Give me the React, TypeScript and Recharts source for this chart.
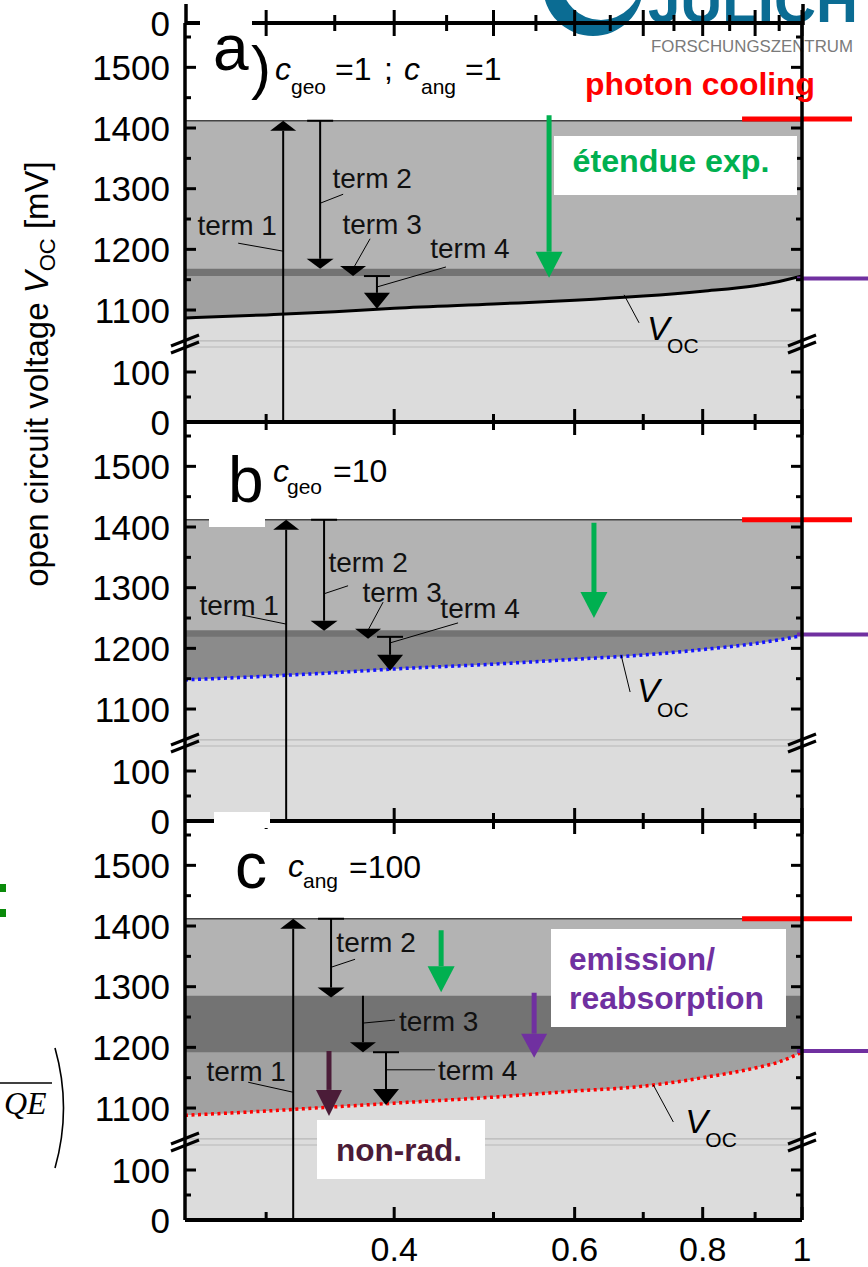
import React from 'react';
import { ComposedChart, Area, Line, XAxis, YAxis, ReferenceLine, ReferenceDot } from 'recharts';

// ---------------- data ----------------
const xValues = [0.25, 0.3, 0.35, 0.4, 0.5, 0.6, 0.7, 0.8, 0.9, 0.95, 1.0];
const vocA = [1087, 1092, 1097, 1103, 1110, 1116, 1123, 1131, 1140, 1147, 1156];
const vocB = [1148, 1154, 1160, 1166, 1174, 1182, 1189, 1198, 1208, 1214, 1221];
const vocC = [1088, 1095, 1102, 1108, 1118, 1128, 1136, 1150, 1166, 1176, 1192];

const limitLevels = [1412, 1412, 1412];
const bandTopLevels = [1168, 1230, 1285];
const bandBottomLevels = [1156, 1219, 1192];
const sideLimitLevels = [1415, 1412, 1412];
const sideVocLevels = [1152, 1223, 1194];
const sideLimitX = [0.874, 1.119];
const sideVocX = [0.989, 1.16];

const yLabelTicks = [0, 100, 1100, 1200, 1300, 1400, 1500];
const yMinorTicks = [50, 1150, 1250, 1350, 1450, 1550];
const yBreakLines = [150, 1049];
const xMajorTicks = [0.4, 0.6, 0.8, 1];
const xMinorTicks = [0.3, 0.5, 0.7, 0.9];
const xFineTicks = [0.3, 0.35, 0.4, 0.45, 0.5, 0.55, 0.6, 0.65, 0.7, 0.75, 0.8, 0.85, 0.9, 0.95, 1];
const xTickLabels = ['0.4', '0.6', '0.8', '1'];

const arrowsA = [
  { x: 0.3117, from: 0, to: 1412, kind: 'term' },
  { x: 0.3387, from: 1412, to: 1168, kind: 'termCap' },
  { x: 0.3647, from: 1168, to: 1156, kind: 'term' },
  { x: 0.3848, from: 1156, to: 1102, kind: 'term4' },
  { x: 0.5665, from: 1421, to: 1153, kind: 'green' },
];
const arrowsB = [
  { x: 0.3138, from: 0, to: 1412, kind: 'term' },
  { x: 0.3417, from: 1412, to: 1229, kind: 'termCap' },
  { x: 0.3772, from: 1232, to: 1216, kind: 'term' },
  { x: 0.3963, from: 1219, to: 1163, kind: 'term4' },
  { x: 0.6266, from: 1407, to: 1250, kind: 'green' },
];
const arrowsC = [
  { x: 0.3188, from: 0, to: 1412, kind: 'term' },
  { x: 0.3471, from: 1412, to: 1282, kind: 'termCap' },
  { x: 0.3729, from: 1285, to: 1192, kind: 'term' },
  { x: 0.3927, from: 1192, to: 1105, kind: 'term4' },
  { x: 0.4445, from: 1393, to: 1291, kind: 'green' },
  { x: 0.5478, from: 1290, to: 1183, kind: 'purple' },
  { x: 0.3455, from: 1194, to: 1087, kind: 'nonrad' },
];

const termLabelsA = [
  { text: 'term 1', x: 0.3117, mv: 1197 },
  { text: 'term 2', x: 0.3387, mv: 1276 },
  { text: 'term 3', x: 0.3647, mv: 1168 },
  { text: 'term 4', x: 0.3848, mv: 1138 },
];
const termLabelsB = [
  { text: 'term 1', x: 0.3138, mv: 1240 },
  { text: 'term 2', x: 0.3417, mv: 1290 },
  { text: 'term 3', x: 0.3772, mv: 1230 },
  { text: 'term 4', x: 0.3963, mv: 1209 },
];
const termLabelsC = [
  { text: 'term 1', x: 0.3188, mv: 1126 },
  { text: 'term 2', x: 0.3471, mv: 1332 },
  { text: 'term 3', x: 0.3729, mv: 1240 },
  { text: 'term 4', x: 0.3927, mv: 1163 },
];
const vocLabelPoints = [
  { x: 0.6705, mv: 1125 },
  { x: 0.666, mv: 1189 },
  { x: 0.716, mv: 1138 },
];

// ---------------- layout / styles ----------------
const CHART_W = 868;
const PLOT_H = 399;
const TOP_PAD = 30;
const BREAK_DU = 78;
const UP_START = 1044;
const LOW_SCALE = 0.5;
const UP_SCALE = 0.6067;
const FONT = "'Liberation Sans', Arial, Helvetica, sans-serif";

// broken-axis mapping (mV -> display units of the y axis)
const du = (mv: number) => (mv <= 500 ? mv * LOW_SCALE : BREAK_DU + (mv - UP_START) * UP_SCALE);
const fromDu = (d: number) => (d <= BREAK_DU ? d / LOW_SCALE : UP_START + (d - BREAK_DU) / UP_SCALE);

const labelOffsetsA = [
  { lx: -45, ly: -8, tx: -46, ty: -26, anchor: 'middle' },
  { lx: 23, ly: -9, tx: 52, ty: -25, anchor: 'middle' },
  { lx: 17, ly: -30, tx: 29, ty: -44, anchor: 'middle' },
  { lx: 69, ly: -20, tx: 93, ty: -38, anchor: 'middle' },
];
const labelOffsetsB = [
  { lx: -44, ly: -9, tx: -47, ty: -19, anchor: 'middle' },
  { lx: 24, ly: -8, tx: 44, ty: -31, anchor: 'middle' },
  { lx: 15, ly: -28, tx: 34, ty: -38, anchor: 'middle' },
  { lx: 68, ly: -20, tx: 90, ty: -34, anchor: 'middle' },
];
const labelOffsetsC = [
  { lx: -45, ly: -10, tx: -47, ty: -21, anchor: 'middle' },
  { lx: 24, ly: -8, tx: 45, ty: -25, anchor: 'middle' },
  { lx: 32, ly: -3, tx: 36, ty: -2, anchor: 'start' },
  { lx: 49, ly: 0, tx: 52, ty: 1, anchor: 'start' },
];
const vocLabelOffsets = [
  { lx: 15, ly: 28, tx: 23, ty: 45, sub: 13 },
  { lx: 9, ly: 37, tx: 16, ty: 47, sub: 15 },
  { lx: 20, ly: 37, tx: 32, ty: 48, sub: 14 },
];

const arrowStyles: any = {
  term: { color: '#000', width: 2, headW: 26, headL: 10, cap: false },
  termCap: { color: '#000', width: 2, headW: 27, headL: 10, cap: true },
  term4: { color: '#000', width: 2, headW: 26, headL: 16, cap: true },
  green: { color: '#00b050', width: 5, headW: 27, headL: 26, cap: false },
  purple: { color: '#7030a0', width: 5, headW: 26, headL: 24, cap: false },
  nonrad: { color: '#4b1c38', width: 5, headW: 26, headL: 26, cap: false },
};

// ---------------- shapes ----------------
const makeArrowShape = (kind: string) => (p: any) => {
  const s = arrowStyles[kind];
  const { x1, y1, x2, y2 } = p;
  const dir = y2 >= y1 ? 1 : -1;
  const baseY = y2 - dir * s.headL;
  const showShaft = dir * (baseY - y1) > 0.5;
  return (
    <g>
      {showShaft && <line x1={x1} y1={y1} x2={x2} y2={baseY} stroke={s.color} strokeWidth={s.width} />}
      {s.cap && <line x1={x1 - 13} y1={y1} x2={x1 + 13} y2={y1} stroke={s.color} strokeWidth={2} />}
      <polygon points={`${x2 - s.headW / 2},${baseY} ${x2 + s.headW / 2},${baseY} ${x2},${y2}`} fill={s.color} />
    </g>
  );
};

const makeTermLabel = (text: string, o: any) => (p: any) => {
  const { cx, cy } = p;
  return (
    <g>
      <line x1={cx} y1={cy} x2={cx + o.lx} y2={cy + o.ly} stroke="#000" strokeWidth={1} />
      <text x={cx + o.tx} y={cy + o.ty} textAnchor={o.anchor} dominantBaseline="central" fontSize={28} fontFamily={FONT} fill="#111">
        {text}
      </text>
    </g>
  );
};

const makeVocLabel = (o: any) => (p: any) => {
  const { cx, cy } = p;
  return (
    <g>
      <line x1={cx} y1={cy} x2={cx + o.lx} y2={cy + o.ly} stroke="#000" strokeWidth={1} />
      <text x={cx + o.tx} y={cy + o.ty} fontSize={34} fontStyle="italic" fontFamily={FONT} fill="#000">V</text>
      <text x={cx + o.tx + 20} y={cy + o.ty + o.sub} fontSize={21} fontFamily={FONT} fill="#000">OC</text>
    </g>
  );
};

const BreakMark = ({ x, y }: any) => (
  <g>
    <line x1={x - 14} y1={y + 2} x2={x + 14} y2={y - 9} stroke="#000" strokeWidth={3} />
    <line x1={x - 14} y1={y + 9} x2={x + 14} y2={y - 2} stroke="#000" strokeWidth={3} />
  </g>
);

const LeftTick = (props: any) => {
  const { x, y, payload } = props;
  const v = payload.value;
  if (Math.abs(v - BREAK_DU) < 0.01) return <BreakMark x={x} y={y} />;
  const mv = Math.round(fromDu(v));
  const major = yLabelTicks.includes(mv);
  return (
    <g>
      <line x1={x} y1={y} x2={x + (major ? 11 : 6)} y2={y} stroke="#000" strokeWidth={3} />
      {major && (
        <text x={x - 15} y={y} textAnchor="end" dominantBaseline="central" fontSize={35} fontFamily={FONT} fill="#000">
          {mv}
        </text>
      )}
    </g>
  );
};

const RightTick = (props: any) => {
  const { x, y, payload } = props;
  const v = payload.value;
  if (Math.abs(v - BREAK_DU) < 0.01) return <BreakMark x={x} y={y} />;
  const mv = Math.round(fromDu(v));
  const major = yLabelTicks.includes(mv);
  return <line x1={x} y1={y} x2={x - (major ? 11 : 6)} y2={y} stroke="#000" strokeWidth={3} />;
};

const BottomTick = (props: any) => {
  const { x, y, payload, showLabel } = props;
  const v = payload.value;
  const idx = xMajorTicks.indexOf(v);
  const major = idx >= 0;
  return (
    <g>
      <line x1={x} y1={y} x2={x} y2={y - (major ? 13 : 8)} stroke="#000" strokeWidth={3} />
      {showLabel && major && (
        <text x={x} y={y + 29} textAnchor="middle" dominantBaseline="central" fontSize={34} fontFamily={FONT} fill="#000">
          {xTickLabels[idx]}
        </text>
      )}
    </g>
  );
};

const TopTick = (props: any) => {
  const { x, y, payload, both } = props;
  const v = payload.value;
  const major = Math.abs(v * 10 - Math.round(v * 10)) < 1e-6 && (both || xMajorTicks.includes(v));
  const len = major ? 13 : 8;
  return <line x1={x} y1={both ? y - len : y} x2={x} y2={y + len} stroke="#000" strokeWidth={3} />;
};

const yTicksDu = [...yLabelTicks, ...yMinorTicks].map(du).concat([BREAK_DU]);

const makeRows = (voc: number[], i: number) =>
  xValues.map((x, k) => ({
    x,
    voc: du(voc[k]),
    limit: du(limitLevels[i]),
    bandTop: du(bandTopLevels[i]),
    bandBottom: du(bandBottomLevels[i]),
  }));

function Panel(p: any) {
  const height = TOP_PAD + PLOT_H + p.bottomH;
  const i = p.index;
  const rows = makeRows(p.voc, i);
  return (
    <div style={{ position: 'absolute', left: 0, top: p.plotTop - TOP_PAD, width: CHART_W, height }}>
      <ComposedChart width={CHART_W} height={height} data={rows} margin={{ top: TOP_PAD - 1, right: 65, bottom: 0, left: 0 }}>
        <XAxis
          xAxisId="b" dataKey="x" type="number" scale="log" domain={[0.25, 1]} allowDataOverflow
          ticks={[...xMinorTicks, ...xMajorTicks]} interval={0} height={p.bottomH}
          tickSize={0} tickMargin={0} tickLine={false} axisLine={{ stroke: '#000', strokeWidth: 4 }}
          tick={<BottomTick showLabel={p.showXLabels} />}
        />
        <XAxis
          xAxisId="t" orientation="top" dataKey="x" type="number" scale="log" domain={[0.25, 1]} allowDataOverflow
          ticks={p.topFine ? xFineTicks : [...xMinorTicks, ...xMajorTicks]} interval={0} height={1}
          tickSize={0} tickMargin={0} tickLine={false} axisLine={{ stroke: '#000', strokeWidth: 4 }}
          tick={<TopTick both={p.topFine} />}
        />
        <YAxis
          yAxisId="l" type="number" domain={[0, PLOT_H]} allowDataOverflow ticks={yTicksDu} interval={0}
          width={185} tickSize={0} tickMargin={0} tickLine={false} axisLine={{ stroke: '#000', strokeWidth: 3.5 }}
          tick={<LeftTick />}
        />
        <YAxis
          yAxisId="r" orientation="right" type="number" domain={[0, PLOT_H]} allowDataOverflow ticks={yTicksDu} interval={0}
          width={1} tickSize={0} tickMargin={0} tickLine={false} axisLine={{ stroke: '#000', strokeWidth: 3.5 }}
          tick={<RightTick />}
        />
        <Area xAxisId="b" yAxisId="l" dataKey="limit" type="linear" fill="#b3b3b3" fillOpacity={1} stroke="#444" strokeWidth={1.5} isAnimationActive={false} dot={false} activeDot={false} />
        <Area xAxisId="b" yAxisId="l" dataKey="bandTop" type="linear" fill="#737373" fillOpacity={1} stroke="none" isAnimationActive={false} dot={false} activeDot={false} />
        <Area xAxisId="b" yAxisId="l" dataKey="bandBottom" type="linear" fill={p.medColor} fillOpacity={1} stroke="none" isAnimationActive={false} dot={false} activeDot={false} />
        <Area xAxisId="b" yAxisId="l" dataKey="voc" type="monotone" fill="#dcdcdc" fillOpacity={1} stroke="none" isAnimationActive={false} dot={false} activeDot={false} />
        {yBreakLines.map((b) => (
          <ReferenceLine key={b} xAxisId="b" yAxisId="l" y={du(b)} stroke="#b8b8b8" strokeWidth={1.2} ifOverflow="visible" />
        ))}
        <Line
          xAxisId="b" yAxisId="l" dataKey="voc" type="monotone" stroke={p.vocColor} strokeWidth={p.vocWidth}
          strokeDasharray={p.vocDash} dot={false} activeDot={false} isAnimationActive={false}
        />
        {p.arrows.map((a: any, k: number) => (
          <ReferenceLine
            key={'a' + k} xAxisId="b" yAxisId="l" ifOverflow="visible"
            segment={[{ x: a.x, y: du(a.from) }, { x: a.x, y: du(a.to) }]}
            shape={makeArrowShape(a.kind)}
          />
        ))}
        {p.labels.map((l: any, k: number) => (
          <ReferenceDot
            key={'l' + k} xAxisId="b" yAxisId="l" x={l.x} y={du(l.mv)} r={0} ifOverflow="visible"
            shape={makeTermLabel(l.text, p.offsets[k])}
          />
        ))}
        <ReferenceDot
          xAxisId="b" yAxisId="l" x={vocLabelPoints[i].x} y={du(vocLabelPoints[i].mv)} r={0} ifOverflow="visible"
          shape={makeVocLabel(vocLabelOffsets[i])}
        />
        <ReferenceLine
          xAxisId="b" yAxisId="l" ifOverflow="visible" stroke="#ff0000" strokeWidth={5}
          segment={[{ x: sideLimitX[0], y: du(sideLimitLevels[i]) }, { x: sideLimitX[1], y: du(sideLimitLevels[i]) }]}
        />
        <ReferenceLine
          xAxisId="b" yAxisId="l" ifOverflow="visible" stroke="#7030a0" strokeWidth={4}
          segment={[{ x: sideVocX[0], y: du(sideVocLevels[i]) }, { x: sideVocX[1], y: du(sideVocLevels[i]) }]}
        />
      </ComposedChart>
    </div>
  );
}

const Background = () => (
  <svg width={868} height={1267} style={{ position: 'absolute', left: 0, top: 0 }}>
    <path
      d="M 543 -14 a 50 50 0 1 0 100 0 a 50 50 0 1 0 -100 0 Z M 561 -20 a 40 40 0 1 0 80 0 a 40 40 0 1 0 -80 0 Z"
      fill="#0b6c93" fillRule="evenodd"
    />
    <text x={648} y={22} fontSize={60} fontWeight="bold" fill="#0b6c93" fontFamily={FONT} textLength={210} lengthAdjust="spacingAndGlyphs">JÜLICH</text>
    <text x={651} y={52} fontSize={17} fill="#7a7a7a" fontFamily={FONT} textLength={202} lengthAdjust="spacingAndGlyphs">
      FORSCHUNGSZENTRUM
    </text>
    <line x1={186} y1={4} x2={186} y2={25} stroke="#000" strokeWidth={3.5} />
    <line x1={803} y1={4} x2={803} y2={25} stroke="#000" strokeWidth={3.5} />
    <line x1={186} y1={23} x2={198} y2={23} stroke="#000" strokeWidth={3} />
    <text x={170} y={23} textAnchor="end" dominantBaseline="central" fontSize={35} fontFamily={FONT}>0</text>
    <rect x={0} y={884} width={6} height={8} fill="#0a8a0a" />
    <rect x={0} y={909} width={6} height={8} fill="#0a8a0a" />
    <line x1={0} y1={1083} x2={52} y2={1083} stroke="#000" strokeWidth={1.5} />
    <text x={4} y={1114} fontSize={32} fontStyle="italic" fontFamily="'Liberation Serif', 'Times New Roman', serif">QE</text>
    <path d="M 55 1048 Q 72 1108 55 1168" stroke="#000" strokeWidth={1.6} fill="none" />
  </svg>
);

const Foreground = () => (
  <svg width={868} height={1267} style={{ position: 'absolute', left: 0, top: 0, pointerEvents: 'none' }} fontFamily={FONT}>
    {/* axis title */}
    <text transform="translate(48,374) rotate(-90)" textAnchor="middle" fontSize={33} fill="#000">
      open circuit voltage <tspan fontStyle="italic">V</tspan>
      <tspan fontSize={22} dy={7}>OC</tspan>
      <tspan dy={-7}> [mV]</tspan>
    </text>

    {/* panel a */}
    <rect x={200} y={8} width={52} height={20} fill="#fff" />
    <text x={213} y={70} fontSize={64} fill="#000">a</text>
    <text x={251} y={88} fontSize={60} fill="#000">)</text>
    <text x={275} y={80} fontSize={32} fontStyle="italic">c</text>
    <text x={291} y={94} fontSize={21}>geo</text>
    <text x={335} y={80} fontSize={32}>=1</text>
    <text x={384} y={80} fontSize={32}>;</text>
    <text x={404} y={80} fontSize={32} fontStyle="italic">c</text>
    <text x={421} y={94} fontSize={21}>ang</text>
    <text x={465} y={80} fontSize={32}>=1</text>
    <text x={700} y={95} textAnchor="middle" fontSize={31} fontWeight="bold" fill="#ff0000" textLength={230} lengthAdjust="spacingAndGlyphs">photon cooling</text>
    <rect x={554} y={136} width={243} height={59} fill="#fff" />
    <text x={671} y={172} textAnchor="middle" fontSize={31} fontWeight="bold" fill="#00b050" textLength={197} lengthAdjust="spacingAndGlyphs">étendue exp.</text>

    {/* panel b */}
    <rect x={209} y={505} width={56} height={22} fill="#fff" />
    <text x={228} y={502} fontSize={64} fill="#000">b</text>
    <text x={273} y={482} fontSize={32} fontStyle="italic">c</text>
    <text x={287} y={494} fontSize={21}>geo</text>
    <text x={333} y={482} fontSize={32}>=10</text>

    {/* panel c */}
    <rect x={214} y={812} width={56} height={16} fill="#fff" />
    <text x={235} y={888} fontSize={64} fill="#000">c</text>
    <text x={288} y={877} fontSize={32} fontStyle="italic">c</text>
    <text x={303} y={888} fontSize={21}>ang</text>
    <text x={349} y={878} fontSize={32}>=100</text>
    <rect x={551} y={929} width={235} height={98} fill="#fff" />
    <text x={569} y={970} fontSize={31} fontWeight="bold" fill="#7030a0" textLength={146} lengthAdjust="spacingAndGlyphs">emission/</text>
    <text x={569} y={1009} fontSize={31} fontWeight="bold" fill="#7030a0" textLength={195} lengthAdjust="spacingAndGlyphs">reabsorption</text>
    <rect x={317} y={1120} width={168} height={59} fill="#fff" />
    <text x={399} y={1161} textAnchor="middle" fontSize={31} fontWeight="bold" fill="#4b1c38" textLength={126} lengthAdjust="spacingAndGlyphs">non-rad.</text>
  </svg>
);

export default function App() {
  return (
    <div style={{ position: 'absolute', left: 0, top: 0, width: 868, height: 1267, background: '#fff', overflow: 'hidden', fontFamily: FONT }}>
      <Background />
      <Panel index={0} plotTop={23} bottomH={24} showXLabels={false} topFine={true} voc={vocA}
        medColor="#a1a1a1" vocColor="#000" vocWidth={3} vocDash={undefined}
        arrows={arrowsA} labels={termLabelsA} offsets={labelOffsetsA} />
      <Panel index={1} plotTop={422} bottomH={24} showXLabels={false} topFine={false} voc={vocB}
        medColor="#8b8b8b" vocColor="#1414ff" vocWidth={3.5} vocDash="3 3.5"
        arrows={arrowsB} labels={termLabelsB} offsets={labelOffsetsB} />
      <Panel index={2} plotTop={821} bottomH={47} showXLabels={true} topFine={false} voc={vocC}
        medColor="#a1a1a1" vocColor="#ff0000" vocWidth={3.5} vocDash="3 3.5"
        arrows={arrowsC} labels={termLabelsC} offsets={labelOffsetsC} />
      <Foreground />
    </div>
  );
}
